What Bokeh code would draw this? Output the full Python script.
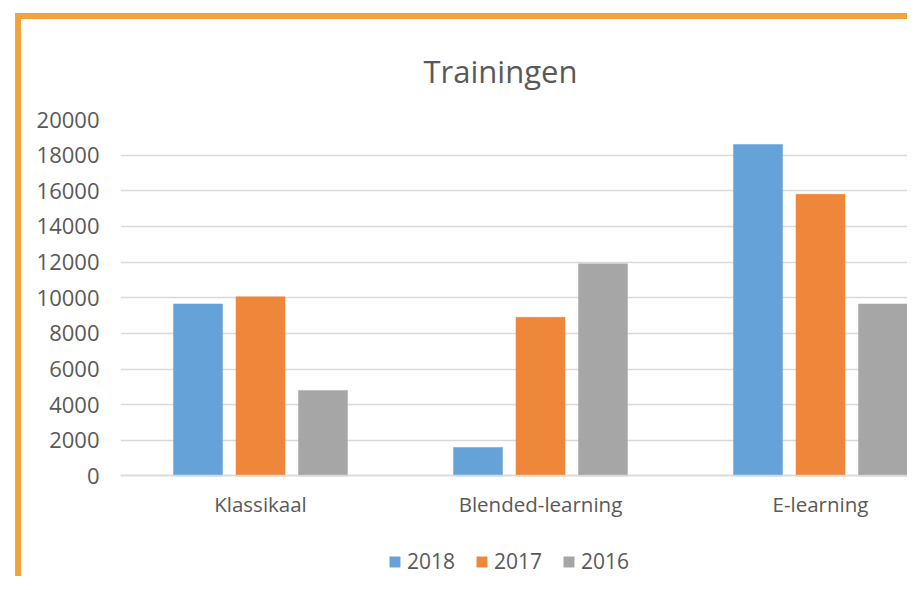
from bokeh.plotting import figure
from bokeh.models import ColumnDataSource, Range1d, FixedTicker, Legend, LegendItem, LinearAxis
from bokeh.transform import dodge
from bokeh.embed import file_html
from bokeh.resources import INLINE

categories = ["Klassikaal", "Blended-learning", "E-learning"]
years = ["2018", "2017", "2016"]
v2018 = [9650, 1600, 18600]
v2017 = [10050, 8900, 15800]
v2016 = [4800, 11900, 9650]
y_ticks = [0, 2000, 4000, 6000, 8000, 10000, 12000, 14000, 16000, 18000, 20000]

colors = ["#65A2D8", "#EF873A", "#A6A6A6"]
FONT = "Open Sans"
TXT = "#595959"
GRID = "#D9D9D9"

pos = [i + 0.5 for i in range(len(categories))]
src = ColumnDataSource(dict(x=pos, cat=categories, v2018=v2018, v2017=v2017, v2016=v2016))

W, H = 892, 563
ML, MT = 99, 98
PLOT_PX = 358          # pixel height from 0 to 20000
BELOW_PX = H - MT - PLOT_PX   # frame part under the zero line (room for labels + legend)
ymax = y_ticks[-1]
ymin = -ymax * BELOW_PX / PLOT_PX

p = figure(width=W, height=H, output_backend="svg", toolbar_location=None,
           x_range=Range1d(0, (W - ML) / 280.0), y_range=Range1d(ymin, ymax),
           min_border_left=ML, min_border_right=0, min_border_top=MT, min_border_bottom=0,
           title="Trainingen", x_axis_location=None)
p.styles = {"border-left": "6px solid #F2A33A", "border-top": "6px solid #F2A33A",
            "margin-left": "15px", "margin-top": "13px"}
p.outline_line_color = None
p.background_fill_color = "white"
p.border_fill_color = "white"

p.title.text_font = FONT
p.title.text_font_size = "31px"
p.title.text_font_style = "normal"
p.title.text_color = TXT
p.title.align = "left"
p.title.offset = 303
p.title.standoff = 56

offsets = [-0.2232, 0.0, 0.2232]
fields = ["v2018", "v2017", "v2016"]
renderers = []
for f, off, c in zip(fields, offsets, colors):
    r = p.vbar(x=dodge("x", off, range=p.x_range), top=f, width=0.175, bottom=0,
               source=src, fill_color=c, line_color=c, line_width=0.5)
    renderers.append(r)

xaxis = LinearAxis(fixed_location=0)
xaxis.ticker = FixedTicker(ticks=pos)
xaxis.major_label_overrides = {x: c for x, c in zip(pos, categories)}
xaxis.major_tick_line_color = None
xaxis.minor_tick_line_color = None
xaxis.axis_line_color = GRID
xaxis.axis_line_width = 1.5
xaxis.major_label_text_font = FONT
xaxis.major_label_text_font_size = "20.5px"
xaxis.major_label_text_color = TXT
xaxis.major_label_standoff = -48
p.add_layout(xaxis, "above")

p.yaxis.ticker = FixedTicker(ticks=y_ticks)
p.yaxis.major_tick_line_color = None
p.yaxis.minor_tick_line_color = None
p.yaxis.axis_line_color = None
p.yaxis.major_label_text_font = FONT
p.yaxis.major_label_text_font_size = "22px"
p.yaxis.major_label_text_color = TXT
p.yaxis.major_label_standoff = 15

p.xgrid.grid_line_color = None
p.ygrid.ticker = FixedTicker(ticks=y_ticks)
p.ygrid.grid_line_color = GRID
p.ygrid.grid_line_width = 1.5

legend = Legend(items=[LegendItem(label=y, renderers=[r]) for y, r in zip(years, renderers)],
                orientation="horizontal", location=(268, 7))
legend.glyph_width = 13
legend.glyph_height = 13
legend.label_standoff = 6
legend.spacing = 20
legend.padding = 0
legend.margin = 0
legend.border_line_color = None
legend.background_fill_color = None
legend.label_text_font = FONT
legend.label_text_font_size = "21px"
legend.label_text_color = TXT
p.add_layout(legend, "center")

open("out.html", "w").write(file_html(p, INLINE))
